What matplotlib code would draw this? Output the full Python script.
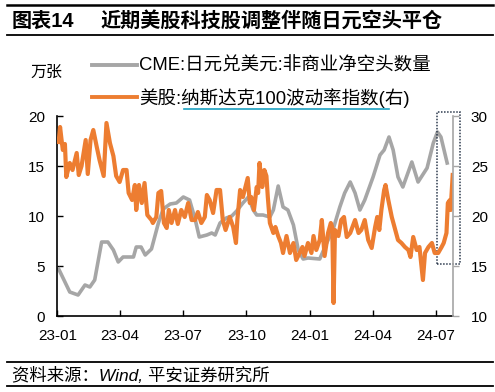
import numpy as np
import pandas as pd
import matplotlib
matplotlib.use('Agg')
import matplotlib.pyplot as plt
import matplotlib.dates as mdates
from matplotlib.lines import Line2D
from matplotlib.patches import Rectangle

plt.rcParams['font.family'] = ['Liberation Sans', 'Noto Sans CJK SC']
plt.rcParams['axes.unicode_minus'] = False

# CME 日元兑美元 非商业净空头 (万张, left axis), weekly
cme_dates = ['2023-01-03', '2023-01-19', '2023-01-31', '2023-02-10', '2023-02-17', '2023-02-24',
             '2023-03-06', '2023-03-15', '2023-03-23', '2023-03-30', '2023-04-06', '2023-04-21',
             '2023-04-25', '2023-05-02', '2023-05-08', '2023-05-17', '2023-05-27', '2023-06-03',
             '2023-06-13', '2023-06-22', '2023-07-02', '2023-07-11', '2023-07-19', '2023-07-25',
             '2023-08-05', '2023-08-12', '2023-08-17', '2023-08-24', '2023-09-02', '2023-09-10',
             '2023-09-17', '2023-09-26', '2023-10-04', '2023-10-11', '2023-10-16', '2023-10-25',
             '2023-11-04', '2023-11-09', '2023-11-16', '2023-11-23', '2023-11-30', '2023-12-08',
             '2023-12-15', '2023-12-22', '2023-12-29', '2024-01-15', '2024-01-25', '2024-02-03',
             '2024-02-13', '2024-02-20', '2024-02-28', '2024-03-06', '2024-03-13', '2024-03-20',
             '2024-04-01', '2024-04-11', '2024-04-17', '2024-04-24', '2024-04-30', '2024-05-07',
             '2024-05-14', '2024-05-27', '2024-06-05', '2024-06-18', '2024-06-27', '2024-07-03',
             '2024-07-08', '2024-07-17']
cme_short = [4.7, 2.4, 2.1, 3.1, 2.9, 3.6,
             7.4, 7.4, 6.6, 5.4, 5.9, 5.9,
             6.9, 6.9, 6.1, 6.7, 9.3, 10.7,
             11.2, 11.3, 11.9, 11.6, 9.7, 7.9,
             8.1, 8.3, 8.1, 9.3, 9.8, 10.0,
             10.5, 11.3, 11.9, 10.6, 10.1, 10.1,
             9.9, 10.6, 13.0, 10.9, 10.6, 9.1,
             6.6, 5.7, 5.8, 5.7, 7.3, 8.6,
             10.9, 12.3, 13.4, 12.3, 10.6, 11.6,
             13.9, 16.1, 16.6, 17.9, 16.6, 13.9,
             12.9, 15.4, 13.4, 14.8, 17.3, 18.4,
             17.9, 15.3]

# 纳斯达克100波动率指数 (right axis)
vxn_dates = ['2023-01-03', '2023-01-05', '2023-01-07', '2023-01-09', '2023-01-12', '2023-01-14',
             '2023-01-19', '2023-01-23', '2023-01-29', '2023-02-01', '2023-02-05', '2023-02-11',
             '2023-02-14', '2023-02-18', '2023-02-22', '2023-02-27', '2023-03-03', '2023-03-09',
             '2023-03-13', '2023-03-18', '2023-03-23', '2023-03-27', '2023-04-01', '2023-04-06',
             '2023-04-11', '2023-04-14', '2023-04-19', '2023-04-23', '2023-04-25', '2023-04-29',
             '2023-05-03', '2023-05-07', '2023-05-11', '2023-05-17', '2023-05-19', '2023-05-24',
             '2023-05-27', '2023-05-31', '2023-06-04', '2023-06-08', '2023-06-11', '2023-06-15',
             '2023-06-20', '2023-06-24', '2023-06-29', '2023-07-04', '2023-07-09', '2023-07-14',
             '2023-07-19', '2023-07-23', '2023-07-28', '2023-08-02', '2023-08-05', '2023-08-09',
             '2023-08-14', '2023-08-19', '2023-08-24', '2023-08-28', '2023-09-01', '2023-09-07',
             '2023-09-12', '2023-09-16', '2023-09-18', '2023-09-22', '2023-09-26', '2023-10-03',
             '2023-10-06', '2023-10-08', '2023-10-12', '2023-10-16', '2023-10-18', '2023-10-20',
             '2023-10-24', '2023-10-27', '2023-10-30', '2023-11-01', '2023-11-04', '2023-11-09',
             '2023-11-12', '2023-11-16', '2023-11-20', '2023-11-23', '2023-11-28', '2023-12-03',
             '2023-12-08', '2023-12-12', '2023-12-17', '2023-12-21', '2023-12-24', '2023-12-29',
             '2024-01-03', '2024-01-06', '2024-01-10', '2024-01-15', '2024-01-18', '2024-01-22',
             '2024-01-27', '2024-01-31', '2024-02-02', '2024-02-04', '2024-02-06', '2024-02-11',
             '2024-02-15', '2024-02-19', '2024-02-23', '2024-02-28', '2024-03-06', '2024-03-11',
             '2024-03-15', '2024-03-20', '2024-03-25', '2024-03-30', '2024-04-04', '2024-04-07',
             '2024-04-10', '2024-04-13', '2024-04-17', '2024-04-19', '2024-04-23', '2024-04-28',
             '2024-05-03', '2024-05-07', '2024-05-12', '2024-05-17', '2024-05-22', '2024-05-25',
             '2024-05-29', '2024-06-03', '2024-06-07', '2024-06-12', '2024-06-15', '2024-06-20',
             '2024-06-25', '2024-06-29', '2024-07-04', '2024-07-09', '2024-07-12', '2024-07-16',
             '2024-07-18', '2024-07-21', '2024-07-22', '2024-07-25']
vxn = [27.4, 28.9, 27.7, 26.6, 27.2, 23.9,
       25.3, 24.6, 26.3, 24.1, 25.0, 27.6,
       24.2, 27.6, 28.6, 26.9, 25.6, 24.0,
       29.3, 27.3, 26.0, 24.0, 23.4, 24.6,
       24.6, 22.3, 21.6, 23.1, 20.6, 23.1,
       21.3, 23.3, 20.1, 19.6, 19.3, 19.9,
       22.3, 22.5, 19.3, 18.8, 20.6, 19.3,
       20.6, 19.2, 20.6, 19.9, 21.3, 19.6,
       19.6, 20.4, 19.3, 19.9, 22.1, 21.6,
       20.3, 22.6, 22.6, 19.6, 18.6, 19.9,
       18.9, 17.3, 19.6, 22.6, 21.9, 23.8,
       21.3, 21.9, 20.6, 22.9, 22.3, 25.3,
       22.9, 24.6, 24.0, 21.9, 19.3, 18.3,
       18.9, 18.0, 17.3, 16.3, 18.0, 16.3,
       17.3, 15.6, 16.3, 16.9, 16.0, 17.3,
       16.3, 18.0, 16.6, 17.6, 19.6, 16.0,
       18.3, 19.3, 18.9, 11.3, 18.6, 18.0,
       19.6, 19.9, 17.9, 18.3, 19.6, 18.3,
       18.6, 19.6, 17.6, 16.8, 18.9, 19.9,
       18.6, 20.6, 22.6, 23.1, 21.6, 19.9,
       18.6, 17.6, 17.3, 16.9, 16.6, 15.9,
       17.9, 16.6, 16.9, 13.6, 16.3, 16.9,
       17.3, 16.3, 16.3, 16.9, 17.3, 18.3,
       21.3, 21.6, 20.6, 24.1]

x_ticks = ['2023-01-01', '2023-04-01', '2023-07-01', '2023-10-01',
           '2024-01-01', '2024-04-01', '2024-07-01']
x_labels = ['23-01', '23-04', '23-07', '23-10', '24-01', '24-04', '24-07']

W, H = 495, 392
fig = plt.figure(figsize=(W / 100, H / 100), dpi=100)


def fx(px):
    return px / W


def fy(py):
    return 1 - py / H


ax = fig.add_axes([fx(57.3), fy(316), fx(452.7) - fx(57.3), fy(116) - fy(316)])
ax2 = ax.twinx()

gray = '#A6A6A6'
orange = '#ED7D31'

ax.plot(pd.to_datetime(cme_dates), cme_short, color=gray, lw=2.6, solid_joinstyle='round')
ax2.plot(pd.to_datetime(vxn_dates), vxn, color=orange, lw=3.0, solid_joinstyle='round')

ax.set_xlim(pd.Timestamp('2023-01-01'), pd.Timestamp('2024-07-25'))
ax.set_ylim(0, 20)
ax.set_yticks([0, 5, 10, 15, 20])
ax2.set_ylim(10, 30)
ax2.set_yticks([10, 15, 20, 25, 30])
ax.set_xticks(pd.to_datetime(x_ticks))
ax.set_xticklabels(x_labels)

for s in ['top', 'right']:
    ax.spines[s].set_visible(False)
for s in ['top', 'left', 'bottom']:
    ax2.spines[s].set_visible(False)
ax.spines['left'].set_linewidth(1.2)
ax.spines['bottom'].set_linewidth(1.2)
ax2.spines['right'].set_color(gray)
ax2.spines['right'].set_linewidth(1.2)

ax.tick_params(axis='y', direction='in', length=4, width=1, labelsize=11, pad=9)
ax.tick_params(axis='x', direction='in', length=4, width=1, labelsize=11, pad=9)
ax2.tick_params(axis='y', direction='out', length=4, width=1, color=gray, labelsize=11, pad=9)

# dotted box around the latest move
x0 = mdates.date2num(pd.Timestamp('2024-07-02'))
x1 = mdates.date2num(pd.Timestamp('2024-08-05'))
ax.add_patch(Rectangle((x0, 5.2), x1 - x0, 15.2, fill=False, ec='#2E3B4E',
                       lw=1.1, ls=(0, (1, 1)), clip_on=False, zorder=5))

# header and footer
fig.add_artist(Line2D([fx(7), fx(493)], [fy(5), fy(5)], color='black', lw=1.8))
fig.add_artist(Line2D([fx(7), fx(493)], [fy(35), fy(35)], color='black', lw=1.3))
fig.text(fx(12), fy(21), '图表14', fontsize=14.5, fontweight='bold', va='center')
fig.text(fx(100), fy(21), '近期美股科技股调整伴随日元空头平仓', fontsize=14.5,
         fontweight='bold', va='center')
fig.add_artist(Line2D([fx(7), fx(493)], [fy(362), fy(362)], color='black', lw=1.3))
fig.add_artist(Line2D([fx(7), fx(493)], [fy(385.5), fy(385.5)], color='black', lw=1.3))
fig.text(fx(12), fy(375), '资料来源：Wind, 平安证券研究所', fontsize=12.5,
         style='italic', va='center')

# unit and legend
fig.text(fx(46), fy(72), '万张', fontsize=11.5, ha='center', va='center')
fig.add_artist(Line2D([fx(92), fx(137)], [fy(64.5), fy(64.5)], color=gray, lw=2.8))
fig.text(fx(139), fy(66), 'CME:日元兑美元:非商业净空头数量', fontsize=13.3, va='center')
fig.add_artist(Line2D([fx(92), fx(137)], [fy(97), fy(97)], color=orange, lw=2.8))
fig.text(fx(139), fy(98), '美股:纳斯达克100波动率指数(右)', fontsize=13.3, va='center')
fig.add_artist(Line2D([fx(184), fx(389)], [fy(108.5), fy(108.5)], color='#1BA1C1', lw=1.2))

fig.savefig('out.png', dpi=100)
